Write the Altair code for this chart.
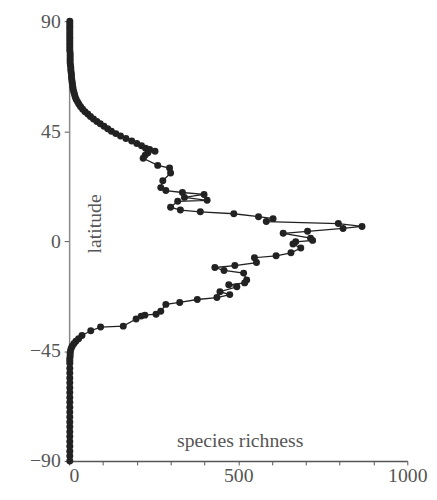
import altair as alt
import pandas as pd

# latitude bands (north to south) and species richness
LAT = [90, 89, 88, 87, 86, 85, 84, 83, 82, 81, 80, 79, 78, 77, 76, 75, 74, 73,
       72, 71, 70, 69, 68, 67, 66, 65, 64, 63, 62, 61, 60, 59, 58, 57, 56, 55,
       54, 53, 52, 51, 50, 49, 48, 47, 46, 45, 44, 43, 42, 41, 40, 39, 38, 37.5,
       36.8, 36.2, 35.2, 33.9, 31.0, 29.9, 27.9, 24.7, 21.9, 20.7, 19.9, 19.1,
       17.9, 16.7, 16.3, 13.9, 12.7, 12.0, 11.2, 10.0, 9.2, 8.0, 7.2, 6.0, 5.2,
       4.0, 3.2, 1.2, 0.3, -0.3, -1.2, -2.8, -4.8, -6.0, -6.8, -8.8, -10.0,
       -10.8, -12.0, -13.1, -15.9, -17.1, -17.9, -18.7, -20.7, -21.9, -23.1,
       -23.9, -25.1, -25.9, -28.7, -29.9, -30.3, -30.7, -31.9, -34.8, -35.2,
       -36.7, -38.6, -40, -41, -42, -43, -44, -45, -46, -47, -48, -49, -50,
       -52, -54, -56, -58, -60, -62, -64, -66, -68, -70, -72, -74, -76, -78,
       -80, -82, -84, -86, -88, -90]
RICH = [2, 2, 2, 2, 2, 2, 2, 2, 2, 2, 2, 2, 2, 3, 3, 3, 3, 3,
        4, 5, 5, 6, 7, 7, 8, 9, 10, 11, 12, 14, 16, 18, 21, 25, 29, 34,
        40, 47, 55, 63, 72, 82, 92, 103, 114, 125, 138, 152, 168, 185, 200, 214, 226, 238,
        254, 233, 225, 219, 262, 297, 300, 277, 271, 286, 335, 399,
        341, 408, 321, 300, 329, 388, 487, 560, 603, 583, 796, 866, 810,
        705, 633, 714, 720, 670, 662, 685, 656, 612, 548, 554, 490,
        431, 458, 516, 525, 519, 472, 496, 446, 475, 437,
        379, 327, 286, 271, 257, 224, 213, 198, 160, 93,
        64, 38, 28, 20, 14, 9, 6, 4, 3, 3, 2, 2, 2,
        2, 2, 2, 2, 2, 2, 2, 2, 2, 2, 2, 2, 2, 2,
        2, 2, 2, 2, 2, 2]

X_TICKS = [0, 100, 200, 300, 400, 500, 600, 700, 800, 900, 1000]
Y_TICKS = [-90, -45, 0, 45, 90]

df = pd.DataFrame({"lat": LAT, "rich": RICH, "idx": range(len(LAT))})

FONT = "Liberation Serif"
GREY = "#555555"

x = alt.X(
    "rich:Q",
    scale=alt.Scale(domain=[0, 1000], nice=False, zero=False),
    axis=alt.Axis(
        values=X_TICKS, format="d",
        labelExpr="datum.value % 500 == 0 ? datum.label : ''",
        labelAlign={"condition": {"test": "datum.value == 0", "value": "left"}, "value": "center"},
        title="species richness", titleX=173, titleY=-15,
        titleBaseline="alphabetic", titleAlign="center",
        titleFont=FONT, titleFontSize=20, titleFontWeight="normal", titleColor=GREY,
        labelFont=FONT, labelFontSize=20, labelColor=GREY, labelPadding=1,
        tickSize=4, tickColor=GREY, domainColor=GREY, domainWidth=1.5, grid=False,
    ),
)
y = alt.Y(
    "lat:Q",
    scale=alt.Scale(domain=[-90, 90], nice=False, zero=False),
    axis=alt.Axis(
        values=Y_TICKS,
        title="latitude", titleAngle=270, titleX=32, titleY=205,
        titleBaseline="alphabetic", titleAlign="center",
        titleFont=FONT, titleFontSize=20, titleFontWeight="normal", titleColor=GREY,
        labelFont=FONT, labelFontSize=20, labelColor=GREY, labelPadding=4,
        tickSize=5, tickColor=GREY, domainColor="#888888", domainWidth=1.5, grid=False,
    ),
)

line = alt.Chart(df).mark_line(color="#222222", strokeWidth=1.3).encode(
    x=x, y=y, order=alt.Order("idx:Q")
)
pts = alt.Chart(df).mark_circle(size=50, color="#222222", opacity=1).encode(x=x, y=y)

chart = (
    alt.layer(line, pts)
    .properties(
        width=343, height=446,
        autosize=alt.AutoSizeParams(type="none"),
        padding={"left": 62, "top": 10, "right": 22, "bottom": 26},
    )
    .configure_view(stroke=None)
)

chart.save("out.html", embed_options={"renderer": "svg", "actions": False})
